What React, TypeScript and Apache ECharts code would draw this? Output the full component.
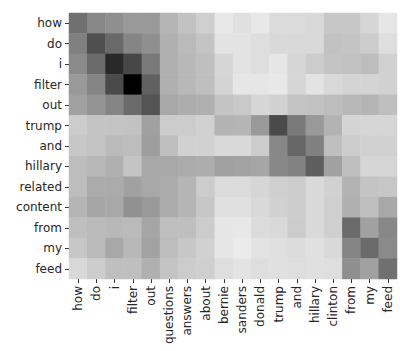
import React, { useEffect, useRef } from "react";
import * as echarts from "echarts";

const colLabels = ["how", "do", "i", "filter", "out", "questions", "answers", "about", "bernie", "sanders", "donald", "trump", "and", "hillary", "clinton", "from", "my", "feed"];
const rowLabels = ["how", "do", "i", "filter", "out", "trump", "and", "hillary", "related", "content", "from", "my", "feed"];

const rowHow = [0.56, 0.47, 0.44, 0.40, 0.40, 0.29, 0.24, 0.19, 0.09, 0.12, 0.09, 0.14, 0.14, 0.15, 0.22, 0.22, 0.16, 0.10];
const rowDo = [0.50, 0.69, 0.59, 0.48, 0.44, 0.31, 0.27, 0.23, 0.11, 0.11, 0.13, 0.15, 0.15, 0.15, 0.24, 0.23, 0.20, 0.13];
const rowI = [0.46, 0.58, 0.84, 0.72, 0.52, 0.31, 0.28, 0.25, 0.16, 0.11, 0.13, 0.10, 0.16, 0.20, 0.23, 0.24, 0.26, 0.18];
const rowFilter = [0.40, 0.48, 0.71, 1.00, 0.62, 0.31, 0.28, 0.25, 0.17, 0.10, 0.10, 0.09, 0.16, 0.11, 0.15, 0.17, 0.17, 0.18];
const rowOut = [0.37, 0.42, 0.48, 0.58, 0.67, 0.34, 0.32, 0.31, 0.23, 0.21, 0.16, 0.18, 0.23, 0.24, 0.26, 0.28, 0.29, 0.25];
const rowTrump = [0.20, 0.23, 0.23, 0.24, 0.37, 0.20, 0.20, 0.18, 0.30, 0.29, 0.40, 0.71, 0.52, 0.40, 0.30, 0.17, 0.16, 0.16];
const rowAnd = [0.22, 0.23, 0.27, 0.26, 0.38, 0.25, 0.18, 0.18, 0.15, 0.15, 0.20, 0.47, 0.60, 0.50, 0.25, 0.20, 0.18, 0.18];
const rowHillary = [0.26, 0.28, 0.31, 0.23, 0.34, 0.34, 0.33, 0.32, 0.37, 0.36, 0.35, 0.47, 0.49, 0.63, 0.37, 0.25, 0.16, 0.16];
const rowRelated = [0.26, 0.33, 0.33, 0.37, 0.34, 0.33, 0.29, 0.20, 0.14, 0.14, 0.16, 0.19, 0.20, 0.15, 0.18, 0.30, 0.23, 0.22];
const rowContent = [0.29, 0.35, 0.34, 0.43, 0.40, 0.33, 0.29, 0.22, 0.12, 0.12, 0.15, 0.18, 0.20, 0.15, 0.19, 0.31, 0.25, 0.34];
const rowFrom = [0.25, 0.27, 0.28, 0.27, 0.35, 0.25, 0.25, 0.20, 0.10, 0.09, 0.14, 0.15, 0.20, 0.15, 0.19, 0.58, 0.37, 0.47];
const rowMy = [0.22, 0.27, 0.34, 0.28, 0.36, 0.26, 0.22, 0.18, 0.10, 0.08, 0.11, 0.12, 0.14, 0.12, 0.15, 0.48, 0.58, 0.46];
const rowFeed = [0.15, 0.20, 0.25, 0.25, 0.31, 0.23, 0.20, 0.19, 0.13, 0.11, 0.13, 0.12, 0.13, 0.12, 0.13, 0.44, 0.37, 0.56];

const matrix = [rowHow, rowDo, rowI, rowFilter, rowOut, rowTrump, rowAnd, rowHillary, rowRelated, rowContent, rowFrom, rowMy, rowFeed];

export default function App() {
  const ref = useRef<HTMLDivElement>(null);
  useEffect(() => {
    if (!ref.current) return;
    const chart = echarts.init(ref.current, null, { renderer: "svg" });
    const data: number[][] = [];
    matrix.forEach((row, r) => row.forEach((v, c) => data.push([c, r, v])));
    const font = { fontFamily: "DejaVu Sans", fontSize: 12, color: "#262626" };
    chart.setOption({
      animation: false,
      backgroundColor: "#ffffff",
      grid: { left: 69, right: 3, top: 13, bottom: 72 },
      xAxis: {
        type: "category",
        data: colLabels,
        axisLine: { show: false },
        axisTick: { show: true, length: 4, lineStyle: { color: "#333" }, alignWithLabel: true },
        axisLabel: { ...font, rotate: 90, margin: 7, interval: 0 },
        splitLine: { show: false },
      },
      yAxis: {
        type: "category",
        data: rowLabels,
        inverse: true,
        axisLine: { show: false },
        axisTick: { show: true, length: 4, lineStyle: { color: "#333" }, alignWithLabel: true },
        axisLabel: { ...font, margin: 7, interval: 0 },
        splitLine: { show: false },
      },
      visualMap: {
        show: false,
        min: 0,
        max: 1,
        inRange: { color: ["#ffffff", "#000000"] },
      },
      series: [
        {
          type: "heatmap",
          data,
          emphasis: { disabled: true },
          itemStyle: { borderWidth: 0 },
        },
      ],
    });
    return () => chart.dispose();
  }, []);
  return <div ref={ref} style={{ position: "fixed", left: 0, top: 0, width: 400, height: 351 }} />;
}
